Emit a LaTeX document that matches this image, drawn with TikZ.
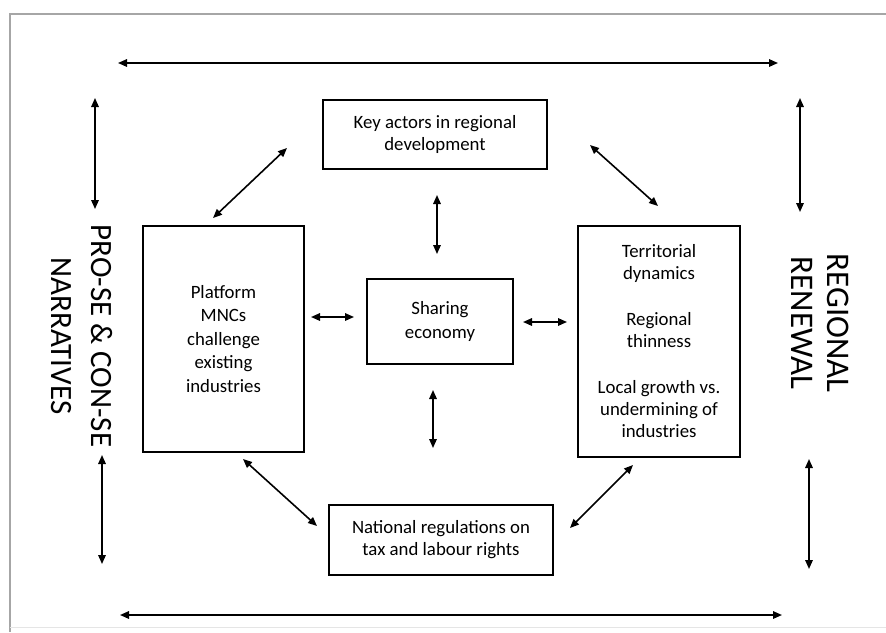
\documentclass[tikz,border=0pt]{standalone}
\usepackage{fontspec}
\setmainfont{Carlito}
\usetikzlibrary{arrows.meta}
\begin{document}
\begin{tikzpicture}[x=1pt,y=-1pt,
  box/.style={draw, line width=1.3pt, align=center, inner sep=0pt, font=\fontsize{18.8}{22}\selectfont},
  dbl/.style={{Triangle[length=9pt,width=7.5pt]}-{Triangle[length=9pt,width=7.5pt]}, line width=1.6pt},
  side/.style={rotate=-90, align=center, inner sep=0pt}]
\useasboundingbox (0,0) rectangle (886,632);
\draw[gray!70, line width=1.5pt] (10,632) -- (10,14) -- (886,14);
\draw[gray!20, line width=1pt] (10,627) -- (886,627);

\node[box, minimum width=224pt, minimum height=69pt] (key) at (435,134.5) {Key actors in regional\\development};
\node[box, minimum width=161pt, minimum height=226pt, font=\fontsize{18.8}{23.5}\selectfont] (mnc) at (223.5,339) {Platform\\MNCs\\challenge\\existing\\industries};
\node[box, minimum width=146pt, minimum height=85pt, font=\fontsize{18.8}{24.5}\selectfont] (se) at (440,321.5) {Sharing\\economy};
\node[box, minimum width=162pt, minimum height=231pt] (terr) at (659,341.5) {Territorial\\dynamics\\[24pt]Regional\\thinness\\[24pt]Local growth vs.\\undermining of\\industries};
\node[box, minimum width=224pt, minimum height=70pt] (nat) at (441,540) {National regulations on\\tax and labour rights};

\node[side, font=\fontsize{31}{40}\selectfont] (pro) at (82,336) {PRO-SE \& CON-SE\\NARRATIVES};
\node[side, font=\fontsize{33}{36}\selectfont] (reg) at (820,323) {REGIONAL\\RENEWAL};

\coordinate (t1) at (118,63);  \coordinate (t2) at (778,63);
\coordinate (b1) at (120,615); \coordinate (b2) at (782,615);
\coordinate (lv1a) at (95,98);  \coordinate (lv1b) at (95,209);
\coordinate (lv2a) at (102,455); \coordinate (lv2b) at (102,564);
\coordinate (rv1a) at (800,98); \coordinate (rv1b) at (800,212);
\coordinate (rv2a) at (809,459); \coordinate (rv2b) at (809,569);
\coordinate (d1a) at (287,148); \coordinate (d1b) at (213,218);
\coordinate (d2a) at (590,145); \coordinate (d2b) at (658,206);
\coordinate (d3a) at (243,459); \coordinate (d3b) at (317,526);
\coordinate (d4a) at (633,465); \coordinate (d4b) at (570,528);
\coordinate (sla) at (311,317); \coordinate (slb) at (354,317);
\coordinate (sra) at (523,322); \coordinate (srb) at (567,322);
\coordinate (sta) at (437,195); \coordinate (stb) at (437,254);
\coordinate (sba) at (433,390); \coordinate (sbb) at (433,448);

\foreach \a/\b in {t1/t2, b1/b2, lv1a/lv1b, lv2a/lv2b, rv1a/rv1b, rv2a/rv2b,
  d1a/d1b, d2a/d2b, d3a/d3b, d4a/d4b, sla/slb, sra/srb, sta/stb, sba/sbb}
  \draw[dbl] (\a) -- (\b);
\end{tikzpicture}
\end{document}
